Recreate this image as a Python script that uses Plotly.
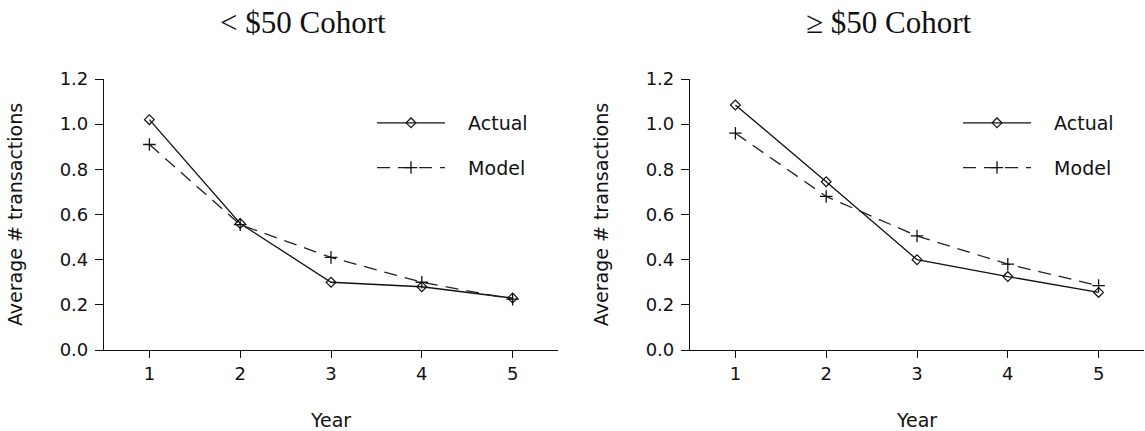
import plotly.graph_objects as go

years = [1, 2, 3, 4, 5]
low_actual = [1.02, 0.56, 0.30, 0.28, 0.23]
low_model = [0.91, 0.555, 0.41, 0.30, 0.225]
high_actual = [1.085, 0.745, 0.40, 0.325, 0.255]
high_model = [0.96, 0.68, 0.505, 0.38, 0.285]
titles = ["< $50 Cohort", "\u2265 $50 Cohort"]
series_names = ["Actual", "Model"]
y_ticks = [0.0, 0.2, 0.4, 0.6, 0.8, 1.0, 1.2]

W, H = 1145, 431
TOP, BOT = 79, 350
def px(x):
    return x / W
def py(y):
    return (BOT - y) / (BOT - TOP)

SANS = "DejaVu Sans"
SERIF = "Liberation Serif"
INK = "#111111"
PAD = "\u00a0\u00a0\u00a0"

fig = go.Figure()

panels = [
    (low_actual, low_model, "x", "y", "legend"),
    (high_actual, high_model, "x2", "y2", "legend2"),
]
for act, mod, xa, ya, lg in panels:
    fig.add_trace(go.Scatter(
        x=years, y=act, xaxis=xa, yaxis=ya, name=PAD + series_names[0], legend=lg,
        legendgroup=lg + "a",
        mode="lines+markers",
        line=dict(color=INK, width=1.3),
        marker=dict(symbol="diamond-open", size=7.5, color=INK, line=dict(width=1.2, color=INK)),
    ))
    fig.add_trace(go.Scatter(
        x=years, y=mod, xaxis=xa, yaxis=ya, name=PAD + series_names[1], legend=lg,
        legendgroup=lg + "m",
        mode="lines+markers",
        line=dict(color="#222222", width=1.3, dash="13px,8px"),
        marker=dict(symbol="cross-thin-open", size=9, color=INK, line=dict(width=1.3, color=INK)),
    ))

axis_common = dict(
    showgrid=False, zeroline=False, showline=True, linecolor=INK, linewidth=1.2,
    ticks="outside", ticklen=8, tickwidth=1.2, tickcolor=INK,
    tickfont=dict(family=SANS, size=18, color=INK), automargin=False,
)
xcommon = dict(axis_common, range=[0.5, 5.5], tickvals=years, ticklen=7,
               title=dict(text="Year", font=dict(family=SANS, size=19, color=INK), standoff=30))
ycommon = dict(axis_common, range=[0, 1.2], tickvals=y_ticks, tickformat=".1f",
               ticklabelstandoff=3,
               title=dict(text="Average # transactions", font=dict(family=SANS, size=19, color=INK), standoff=32))

fig.update_layout(
    xaxis=dict(xcommon, domain=[px(104), px(558)], anchor="y"),
    yaxis=dict(ycommon, domain=[0, 1], anchor="x"),
    xaxis2=dict(xcommon, domain=[px(690), px(1144)], anchor="y2"),
    yaxis2=dict(ycommon, domain=[0, 1], anchor="x2"),
)

leg_common = dict(
    font=dict(family=SANS, size=19, color=INK), bgcolor="rgba(0,0,0,0)",
    itemwidth=68, tracegroupgap=17, traceorder="grouped",
    xanchor="left", yanchor="top",
)
fig.update_layout(
    legend=dict(leg_common, x=px(372), y=py(104)),
    legend2=dict(leg_common, x=px(958), y=py(104)),
    showlegend=True,
)

for i, t in enumerate(titles):
    fig.add_annotation(
        text=t, xref="paper", yref="paper", x=px([303, 889][i]), y=py(23),
        xanchor="center", yanchor="middle", showarrow=False,
        font=dict(family=SERIF, size=31, color=INK),
    )

fig.update_layout(
    width=W, height=H,
    margin=dict(l=0, r=0, t=TOP, b=H - BOT, pad=0),
    plot_bgcolor="white", paper_bgcolor="white",
)

fig.write_html("out.html", config={"displayModeBar": False},
               post_script="document.body.style.margin='0px';")
